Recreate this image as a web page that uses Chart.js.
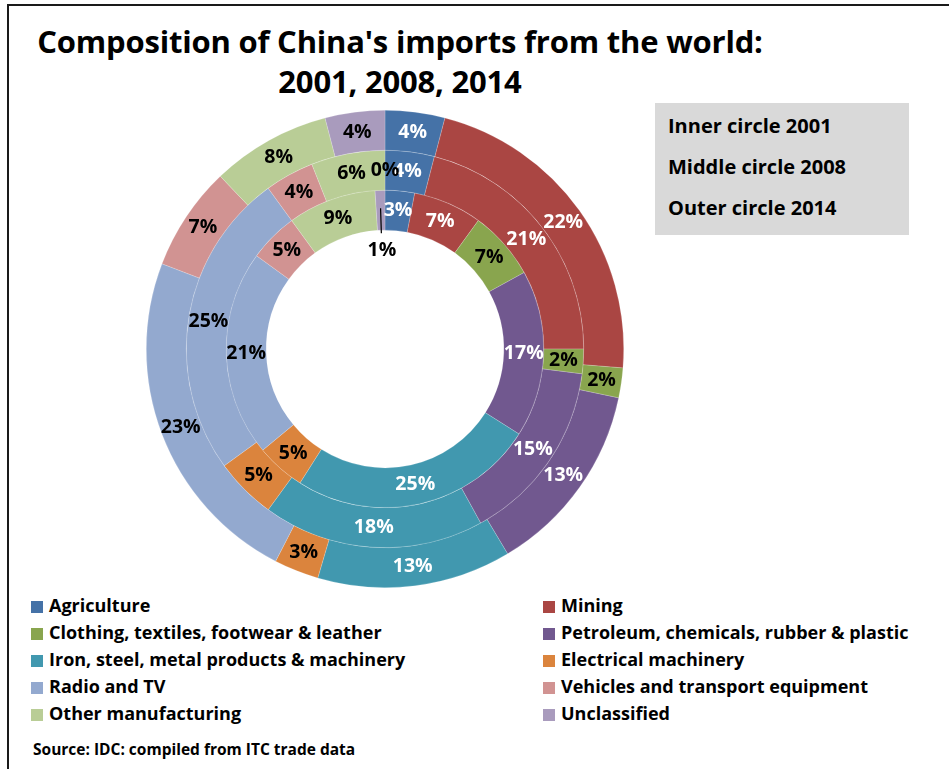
<!DOCTYPE html>
<html>
<head>
<meta charset="utf-8">
<script src="https://cdn.jsdelivr.net/npm/chart.js@4.4.1/dist/chart.umd.min.js"></script>
<style>
  html, body { margin: 0; padding: 0; background: #fff; }
  body { width: 949px; height: 769px; position: relative; overflow: hidden;
         font-family: "Open Sans", Lato, sans-serif; font-weight: bold; color: #000; }
  #frame { position: absolute; left: 7px; top: 4px; width: 960px; height: 800px;
           border-left: 2px solid #1a1a1a; border-top: 2px solid #1a1a1a; }
  .title { position: absolute; left: 0; width: 800px; text-align: center;
           font-size: 31px; white-space: nowrap; line-height: 1; letter-spacing: -0.2px; }
  #box { position: absolute; left: 655px; top: 103px; width: 254px; height: 132px; background: #d9d9d9; }
  #box div { position: absolute; left: 13px; font-size: 20px; white-space: nowrap; line-height: 1; }
  #wrap { position: absolute; left: 146px; top: 110px; width: 478px; height: 478px; }
  .leg { position: absolute; font-size: 18px; white-space: nowrap; line-height: 1; }
  .leg i { position: absolute; left: 0; top: 3px; width: 12px; height: 12px; }
  .leg span { position: absolute; left: 18px; top: -2px; }
  #source { position: absolute; left: 33px; top: 742px; font-size: 15.5px; white-space: nowrap; line-height: 1; }
</style>
</head>
<body>
<div id="frame"></div>
<div class="title" style="top:26px;">Composition of China's imports from the world:</div>
<div class="title" style="top:66px;">2001, 2008, 2014</div>
<div id="box"></div>
<div id="wrap"><canvas id="chart" width="478" height="478"></canvas></div>
<div id="legend"></div>
<div id="source">Source: IDC: compiled from ITC trade data</div>

<script>
// Product groups, in the order they run clockwise from twelve o'clock
const categories = [
  "Agriculture",
  "Mining",
  "Clothing, textiles, footwear & leather",
  "Petroleum, chemicals, rubber & plastic",
  "Iron, steel, metal products & machinery",
  "Electrical machinery",
  "Radio and TV",
  "Vehicles and transport equipment",
  "Other manufacturing",
  "Unclassified"
];

// Share of total imports (%) per year
const share2001 = [3, 7, 7, 17, 25, 5, 21, 5, 9, 1];
const share2008 = [4, 21, 2, 15, 18, 5, 25, 4, 6, 0];
const share2014 = [4, 22, 2, 13, 13, 3, 23, 7, 8, 4];

// Ring captions shown in the grey box
const ringNotes = ["Inner circle 2001", "Middle circle 2008", "Outer circle 2014"];

const sliceColors = [
  "#4572a7", "#aa4643", "#89a54e", "#71588f", "#4198af",
  "#db843d", "#93a9cf", "#d19392", "#b9cd96", "#a99bbd"
];
// Label ink per group: white on the dark slices, black elsewhere
const labelInk = [
  "#ffffff", "#ffffff", "#000000", "#ffffff", "#ffffff",
  "#000000", "#000000", "#000000", "#000000", "#000000"
];

// Grey caption box
const box = document.getElementById("box");
ringNotes.forEach((t, i) => {
  const d = document.createElement("div");
  d.textContent = t;
  d.style.top = (13 + i * 41) + "px";
  box.appendChild(d);
});

// Two-column legend
const legend = document.getElementById("legend");
categories.forEach((name, i) => {
  const col = i % 2, row = Math.floor(i / 2);
  const item = document.createElement("div");
  item.className = "leg";
  item.style.left = (col === 0 ? 31 : 543) + "px";
  item.style.top = (598 + row * 27) + "px";
  const sw = document.createElement("i");
  sw.style.background = sliceColors[i];
  const tx = document.createElement("span");
  tx.textContent = name;
  item.appendChild(sw);
  item.appendChild(tx);
  legend.appendChild(item);
});

// Percentage labels at the middle of each ring segment
const ringLabels = {
  id: "ringLabels",
  afterDatasetsDraw(chart) {
    const ctx = chart.ctx;
    const last = chart.data.datasets.length - 1;
    ctx.save();
    ctx.font = "bold 19.5px 'Open Sans', Lato, sans-serif";
    ctx.textAlign = "center";
    ctx.textBaseline = "middle";
    chart.data.datasets.forEach((ds, di) => {
      const meta = chart.getDatasetMeta(di);
      meta.data.forEach((arc, i) => {
        const p = arc.getProps(["x", "y", "startAngle", "endAngle", "innerRadius", "outerRadius"], true);
        const v = ds.data[i];
        const mid = (p.startAngle + p.endAngle) / 2;
        const text = v + "%";
        if (di === last && v > 0 && v <= 1) {
          // too thin for the text: pull it into the hole with a leader line
          const r0 = p.innerRadius + (p.outerRadius - p.innerRadius) * 0.55;
          const r1 = p.innerRadius - 3;
          ctx.strokeStyle = "#000";
          ctx.lineWidth = 1.2;
          ctx.beginPath();
          ctx.moveTo(p.x + Math.cos(mid) * r0, p.y + Math.sin(mid) * r0);
          ctx.lineTo(p.x + Math.cos(mid) * r1, p.y + Math.sin(mid) * r1);
          ctx.stroke();
          const rl = p.innerRadius - 20;
          ctx.fillStyle = "#000";
          ctx.fillText(text, p.x + Math.cos(mid) * rl, p.y + Math.sin(mid) * rl);
          return;
        }
        const r = (p.innerRadius + p.outerRadius) / 2;
        ctx.fillStyle = labelInk[i];
        ctx.fillText(text, p.x + Math.cos(mid) * r, p.y + Math.sin(mid) * r);
      });
    });
    ctx.restore();
  }
};

const ringStyle = {
  backgroundColor: sliceColors,
  borderColor: "rgba(255,255,255,0.3)",
  borderWidth: 0.6,
  weight: 1
};

new Chart(document.getElementById("chart"), {
  type: "doughnut",
  data: {
    labels: categories,
    datasets: [
      Object.assign({ label: "2014", data: share2014 }, ringStyle),
      Object.assign({ label: "2008", data: share2008 }, ringStyle),
      Object.assign({ label: "2001", data: share2001 }, ringStyle)
    ]
  },
  options: {
    responsive: false,
    animation: false,
    events: [],
    cutout: "49.8%",
    layout: { padding: 0 },
    plugins: {
      legend: { display: false },
      title: { display: false },
      tooltip: { enabled: false }
    }
  },
  plugins: [ringLabels]
});
</script>
</body>
</html>
